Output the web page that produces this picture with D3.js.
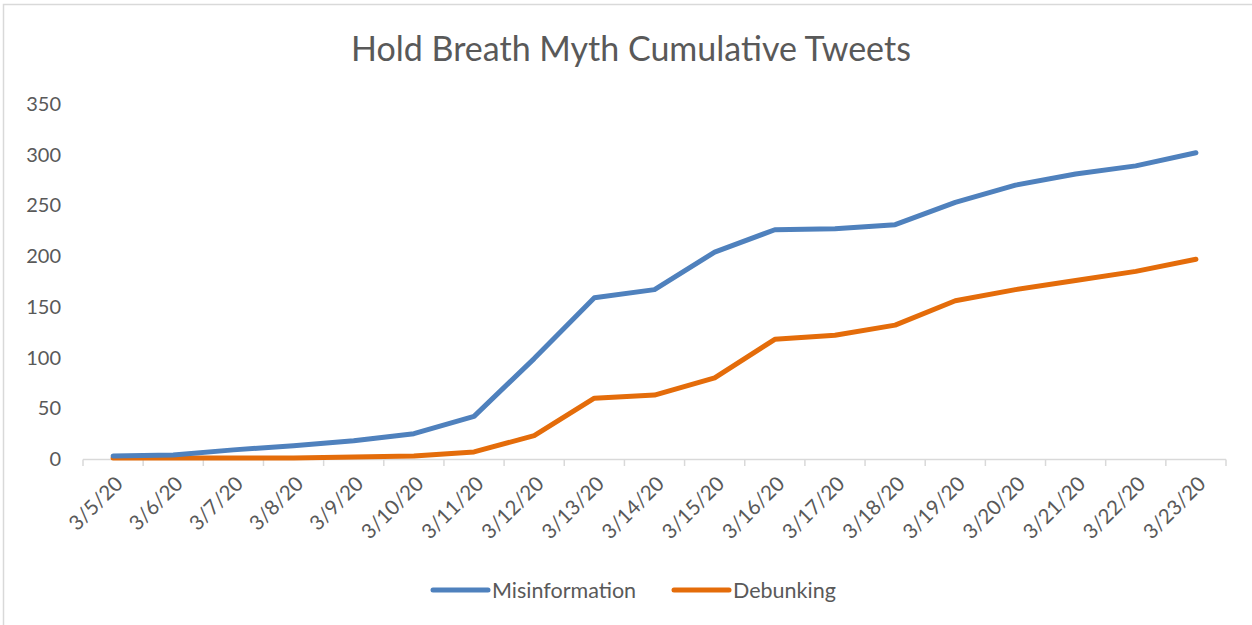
<!DOCTYPE html>
<html>
<head>
<meta charset="utf-8">
<script src="https://cdn.jsdelivr.net/npm/d3@7"></script>
<style>
  body { margin: 0; background: #fff; }
  text { font-family: Lato, "Open Sans", sans-serif; fill: #595959; }
</style>
</head>
<body>
<script>
// values
var dates = ["3/5/20","3/6/20","3/7/20","3/8/20","3/9/20","3/10/20","3/11/20","3/12/20","3/13/20","3/14/20",
             "3/15/20","3/16/20","3/17/20","3/18/20","3/19/20","3/20/20","3/21/20","3/22/20","3/23/20"];
var misinformation = [3, 4, 9, 13, 18, 25, 42, 99, 159, 167, 204, 226, 227, 231, 253, 270, 281, 289, 302];
var debunking = [1, 1, 1, 1, 2, 3, 7, 23, 60, 63, 80, 118, 122, 132, 156, 167, 176, 185, 197];
var yTicks = [0, 50, 100, 150, 200, 250, 300, 350];

var width = 1252, height = 625;

var svg = d3.select("body").append("svg")
    .attr("width", width)
    .attr("height", height);

// chart border
svg.append("rect")
    .attr("x", 3.5).attr("y", 4.5)
    .attr("width", width + 10).attr("height", height + 10)
    .attr("fill", "none")
    .attr("stroke", "#d9d9d9")
    .attr("stroke-width", 1.5);

var x = d3.scaleBand()
    .domain(dates)
    .range([83, 1226]);

var y = d3.scaleLinear()
    .domain([0, 350])
    .range([459, 104]);

// title
svg.append("text")
    .attr("x", 631)
    .attr("y", 61)
    .attr("text-anchor", "middle")
    .style("font-size", "34px")
    .text("Hold Breath Myth Cumulative Tweets");

// y axis labels
svg.append("g")
    .selectAll("text")
    .data(yTicks)
    .enter().append("text")
    .attr("x", 61)
    .attr("y", function(d) { return y(d); })
    .attr("dy", "0.35em")
    .attr("text-anchor", "end")
    .style("font-size", "20px")
    .text(function(d) { return d; });

// x axis line + ticks
var xAxis = svg.append("g");
xAxis.append("line")
    .attr("x1", 83).attr("x2", 1226)
    .attr("y1", 459.5).attr("y2", 459.5)
    .attr("stroke", "#d9d9d9").attr("stroke-width", 1.5);

var tickPos = dates.map(function(d) { return x(d); }).concat([1226]);
xAxis.selectAll("line.tick")
    .data(tickPos)
    .enter().append("line")
    .attr("class", "tick")
    .attr("x1", function(d) { return d; }).attr("x2", function(d) { return d; })
    .attr("y1", 459.5).attr("y2", 466)
    .attr("stroke", "#d9d9d9").attr("stroke-width", 1.5);

xAxis.selectAll("text")
    .data(dates)
    .enter().append("text")
    .attr("text-anchor", "end")
    .attr("transform", function(d) {
        return "translate(" + (x(d) + x.bandwidth() / 2 + 11) + ",485) rotate(-45)";
    })
    .style("font-size", "20.5px")
    .text(function(d) { return d; });

// lines
var line = d3.line()
    .x(function(d, i) { return x(dates[i]) + x.bandwidth() / 2; })
    .y(function(d) { return y(d); });

var series = [
    { name: "Misinformation", values: misinformation, color: "#4f81bd" },
    { name: "Debunking", values: debunking, color: "#e46c0a" }
];

svg.selectAll("path.series")
    .data(series.slice().reverse())
    .enter().append("path")
    .attr("class", "series")
    .attr("d", function(d) { return line(d.values); })
    .attr("fill", "none")
    .attr("stroke", function(d) { return d.color; })
    .attr("stroke-width", 5)
    .attr("stroke-linecap", "round")
    .attr("stroke-linejoin", "round");

// legend
var legendX = [433, 674];
var legend = svg.selectAll("g.legend")
    .data(series)
    .enter().append("g")
    .attr("class", "legend")
    .attr("transform", function(d, i) { return "translate(" + legendX[i] + ",590)"; });

legend.append("line")
    .attr("x1", 0).attr("x2", 55)
    .attr("y1", 0).attr("y2", 0)
    .attr("stroke", function(d) { return d.color; })
    .attr("stroke-width", 5)
    .attr("stroke-linecap", "round");

legend.append("text")
    .attr("x", 59)
    .attr("y", 0)
    .attr("dy", "0.35em")
    .style("font-size", "21.5px")
    .text(function(d) { return d.name; });
</script>
</body>
</html>
